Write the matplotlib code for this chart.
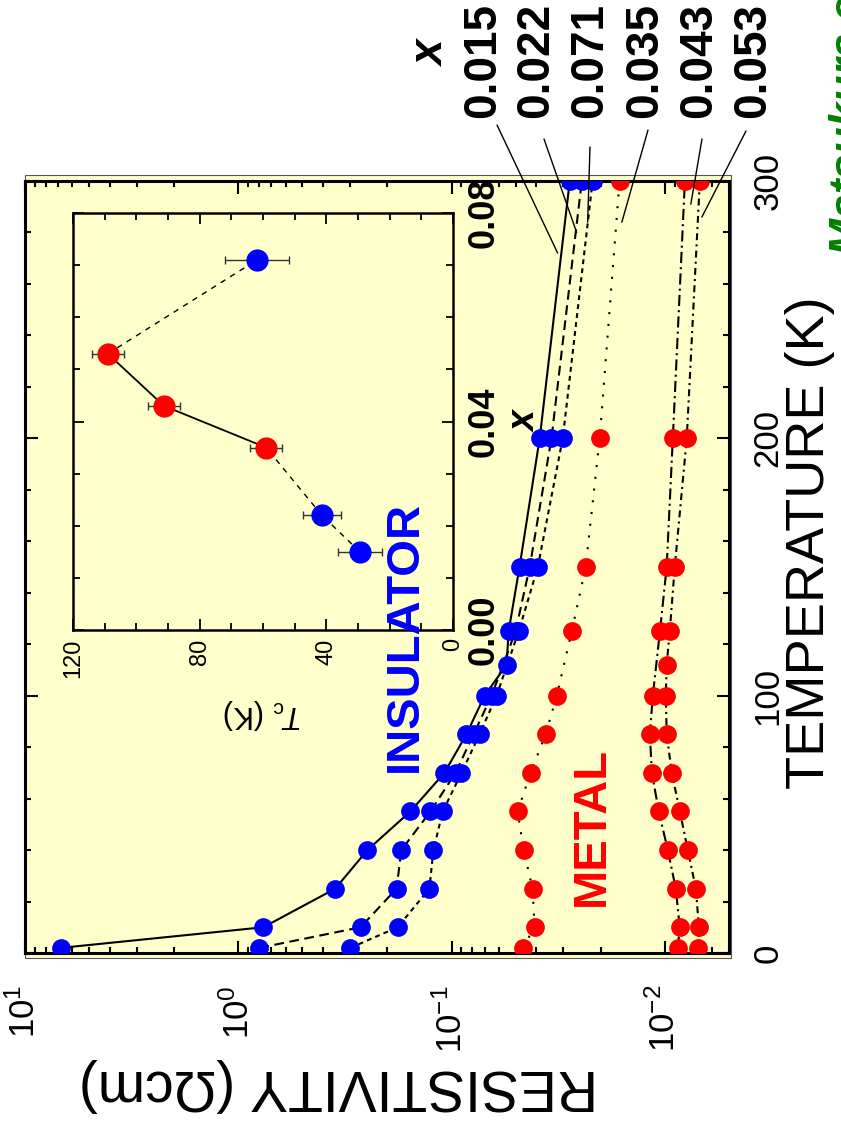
import matplotlib
matplotlib.use("Agg")
import matplotlib.pyplot as plt
from matplotlib.patches import Rectangle
from matplotlib.ticker import LogLocator, MultipleLocator, NullFormatter

plt.rcParams["font.family"] = ["Liberation Sans", "DejaVu Sans"]
plt.rcParams["mathtext.fontset"] = "custom"
plt.rcParams["mathtext.rm"] = "Liberation Sans"
plt.rcParams["mathtext.it"] = "Liberation Sans:italic"
plt.rcParams["mathtext.bf"] = "Liberation Sans:bold"
plt.rcParams["lines.scale_dashes"] = False

# resistivity (Ohm cm) vs temperature (K), one curve per Mn content x
t_015 = [2, 10, 25, 40, 55, 70, 85, 100, 112, 125, 150, 200, 300]
rho_015 = [6.78, 0.763, 0.351, 0.248, 0.156, 0.108, 0.0851, 0.070, 0.0552, 0.054, 0.048, 0.0386, 0.0279]

t_022 = [2, 10, 25, 40, 55, 70, 85, 100, 125, 150, 200, 300]
rho_022 = [0.796, 0.267, 0.181, 0.172, 0.1256, 0.0958, 0.0788, 0.0649, 0.0501, 0.0430, 0.0340, 0.0245]

t_071 = [2, 10, 25, 40, 55, 70, 85, 100, 125, 150, 200, 300]
rho_071 = [0.298, 0.179, 0.127, 0.1216, 0.110, 0.0898, 0.0739, 0.0615, 0.0484, 0.0394, 0.0301, 0.0218]

t_035 = [2, 10, 25, 40, 55, 70, 85, 100, 125, 150, 200, 300]
rho_035 = [0.0464, 0.0408, 0.0417, 0.0459, 0.0490, 0.0426, 0.0362, 0.0321, 0.0273, 0.0235, 0.0202, 0.0163]

t_043 = [2, 10, 25, 40, 55, 70, 85, 100, 125, 150, 200, 300]
rho_043 = [0.00869, 0.00851, 0.00888, 0.00968, 0.01067, 0.0115, 0.01175, 0.01138, 0.01054, 0.0098, 0.00917, 0.00805]

t_053 = [2, 10, 25, 40, 55, 70, 85, 100, 112, 125, 150, 200, 300]
rho_053 = [0.0070, 0.00692, 0.00715, 0.0078, 0.0085, 0.00927, 0.0098, 0.00989, 0.0098, 0.00948, 0.00898, 0.00789, 0.00685]

series_names = ["0.015", "0.022", "0.071", "0.035", "0.043", "0.053"]
series_t = [t_015, t_022, t_071, t_035, t_043, t_053]
series_rho = [rho_015, rho_022, rho_071, rho_035, rho_043, rho_053]
series_colors = ["blue", "blue", "blue", "red", "red", "red"]
series_styles = ["-", (0, (7, 4)), (0, (3.5, 3)), (0, (1.5, 7)),
                 (0, (8, 3, 1.5, 3)), (0, (5, 3, 1.5, 3))]

# where each label's leader line meets its curve (rho, T)
leader_ends = [(0.0318, 272), (0.0259, 280), (0.0230, 284),
               (0.0159, 284), (0.00755, 291), (0.0067, 286)]
leader_starts_px = [(497, 125), (544, 139), (590, 147), (648, 130), (702, 139), (746, 131)]
label_centers_px = [483, 536, 590, 645, 699, 753]

# inset: Curie temperature vs x
x_comp = [0.015, 0.022, 0.035, 0.043, 0.053, 0.071]
tc = [29.4, 41.4, 59.0, 91.3, 109.0, 61.9]
tc_err = [7, 6, 5, 5, 5, 10]
tc_colors = ["blue", "blue", "red", "red", "red", "blue"]
tc_links = ["--", "--", "-", "-", "--"]

W, H = 841, 1127
fig = plt.figure(figsize=(W / 100, H / 100), dpi=100)
fig.patch.set_facecolor("white")

bg = Rectangle((25 / W, 1 - 958 / H), (731 - 25) / W, (958 - 175) / H,
               transform=fig.transFigure, facecolor="#FFFFCC",
               edgecolor="#555555", lw=0.8, zorder=-1)
fig.add_artist(bg)

ax = fig.add_axes([25 / W, 1 - 953 / H, (729 - 25) / W, (953 - 181) / H])
ax.set_facecolor("#FFFFCC")
for sp in ax.spines.values():
    sp.set_linewidth(2.2)

for t, r, st in zip(series_t, series_rho, series_styles):
    ax.plot(r, t, color="black", lw=1.5, ls=st, zorder=2)
for t, r, c in zip(series_t, series_rho, series_colors):
    ax.plot(r, t, ls="none", marker="o", ms=13.5, mfc=c, mec=c, mew=0, zorder=3)

ax.set_xscale("log")
ax.set_xlim(10, 0.005)
ax.set_ylim(0, 300)
ax.xaxis.set_major_locator(LogLocator(base=10))
ax.xaxis.set_minor_locator(LogLocator(base=10, subs=range(2, 10)))
ax.xaxis.set_minor_formatter(NullFormatter())
ax.yaxis.set_major_locator(MultipleLocator(100))
ax.yaxis.set_minor_locator(MultipleLocator(20))

ax.tick_params(which="both", direction="in", top=True, bottom=True,
               left=True, right=True, width=1.5)
ax.tick_params(which="major", length=9)
ax.tick_params(which="minor", length=4)
ax.tick_params(axis="x", labelrotation=90, labelsize=25, pad=23)
ax.tick_params(axis="y", labelleft=False, labelright=True, labelrotation=90,
               labelsize=25, pad=16)
for lab in ax.get_yticklabels():
    lab.set_verticalalignment("center")

fig.text(338 / W, 1 - 1085 / H, "RESISTIVITY (\u03a9cm)", rotation=180,
         ha="center", va="center", fontsize=41)
fig.text(810 / W, 1 - 543 / H, "TEMPERATURE (K)", rotation=90,
         ha="center", va="center", fontsize=39)

# composition labels with leader lines
fig.text(432 / W, 1 - 67 / H, "x", rotation=90, ha="center", va="bottom",
         fontsize=33, fontweight="bold", fontstyle="italic")
for name, cx, start, end in zip(series_names, label_centers_px, leader_starts_px, leader_ends):
    fig.text(cx / W, 1 - 118 / H, name, rotation=90, ha="center", va="bottom",
             fontsize=33, fontweight="bold")
    ax.annotate("", xy=end, xycoords="data",
                xytext=(start[0] / W, 1 - start[1] / H), textcoords="figure fraction",
                arrowprops=dict(arrowstyle="-", lw=1.0, color="black",
                                shrinkA=0, shrinkB=0))

# inset
ax_in = fig.add_axes([73 / W, 1 - 630 / H, (453 - 73) / W, (630 - 213) / H])
ax_in.set_facecolor("#FFFFCC")
for sp in ax_in.spines.values():
    sp.set_linewidth(1.8)

for i, st in enumerate(tc_links):
    ax_in.plot(tc[i:i + 2], x_comp[i:i + 2], color="black",
               lw=1.0 if st == "--" else 1.3, ls=(0, (4, 4)) if st == "--" else "-",
               zorder=2)
ax_in.errorbar(tc, x_comp, xerr=tc_err, fmt="none", ecolor="#333333",
               elinewidth=1.0, capsize=3, capthick=1.0, zorder=3)
for t, xc, c in zip(tc, x_comp, tc_colors):
    ax_in.plot(t, xc, ls="none", marker="o", ms=16, mfc=c, mec=c, mew=0, zorder=4)

ax_in.set_xlim(120, 0)
ax_in.set_ylim(0, 0.08)
tc_ticks = [0, 40, 80, 120]
x_ticks = [0.0, 0.04, 0.08]
ax_in.set_xticks(tc_ticks, [str(v) for v in tc_ticks])
ax_in.set_yticks(x_ticks, [f"{v:.2f}" for v in x_ticks])
ax_in.xaxis.set_minor_locator(MultipleLocator(10))
ax_in.yaxis.set_minor_locator(MultipleLocator(0.01))
ax_in.tick_params(which="both", direction="in", top=True, bottom=True,
                  left=True, right=True, width=1.3)
ax_in.tick_params(which="major", length=8)
ax_in.tick_params(which="minor", length=5)
ax_in.tick_params(axis="x", labelrotation=90, labelsize=17, pad=6)
ax_in.tick_params(axis="y", labelleft=False, labelright=True, labelrotation=90,
                  labelsize=26, pad=10)
for lab in ax_in.get_yticklabels():
    lab.set_fontweight("bold")
    lab.set_verticalalignment("center")

ax_in.set_xlabel(r"$T_{\mathrm{c}}$ (K)", rotation=180, fontsize=22, labelpad=14)
ax_in.yaxis.set_label_position("right")
ax_in.set_ylabel("x", rotation=90, fontsize=27, fontweight="bold",
                 fontstyle="italic", labelpad=4)

# phase labels drawn above the inset
fig.text(0.166, 123, "INSULATOR", transform=ax.transData, rotation=90,
         ha="center", va="center", fontsize=34, fontweight="bold", color="blue",
         zorder=5)
fig.text(0.022, 49, "METAL", transform=ax.transData, rotation=90,
         ha="center", va="center", fontsize=34, fontweight="bold", color="red",
         zorder=5)

fig.text(861 / W, 1 - 255 / H, "Matsukura et al.", rotation=90,
         rotation_mode="anchor", ha="left", va="baseline", fontsize=32,
         fontweight="bold", fontstyle="italic", color="#008000")

fig.savefig("out.png", dpi=100)
